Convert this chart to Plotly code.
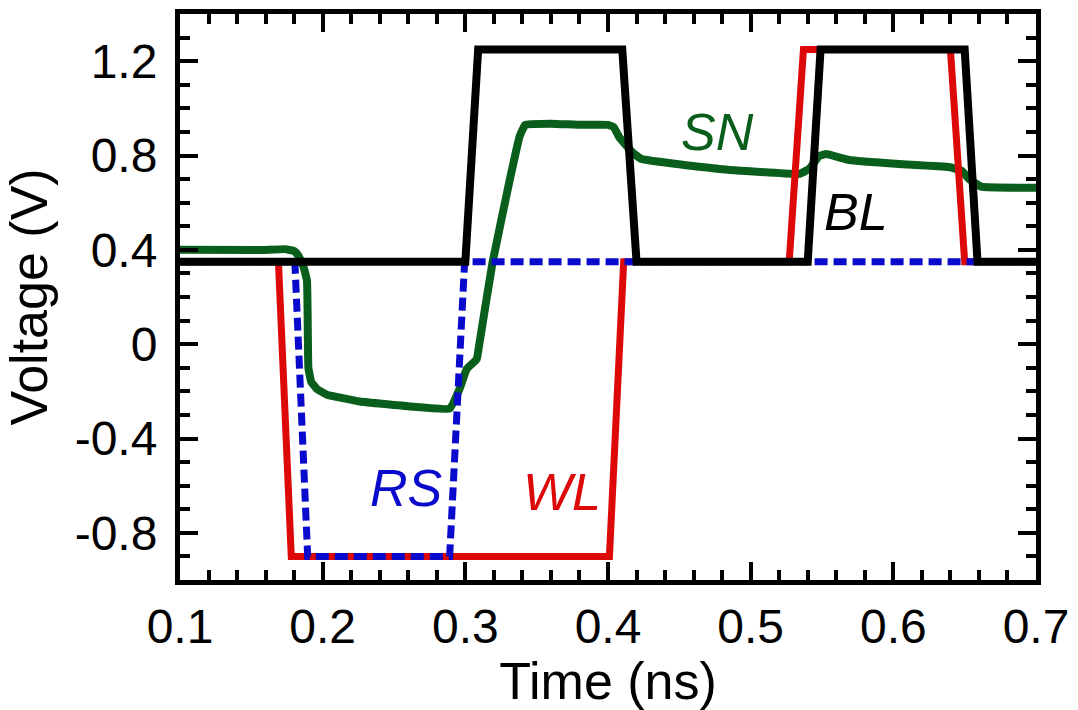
import plotly.graph_objects as go

# ---- data (time in ns, voltage in V) ----
t_BL = [0.1, 0.300, 0.309, 0.410, 0.420, 0.540, 0.549, 0.650, 0.659, 0.7]
v_BL = [0.35, 0.35, 1.25, 1.25, 0.35, 0.35, 1.25, 1.25, 0.35, 0.35]

t_WL = [0.1, 0.169, 0.178, 0.401, 0.411, 0.527, 0.537, 0.640, 0.650, 0.7]
v_WL = [0.35, 0.35, -0.9, -0.9, 0.35, 0.35, 1.25, 1.25, 0.35, 0.35]

t_RS = [0.1, 0.1805, 0.1895, 0.289, 0.2995, 0.7]
v_RS = [0.35, 0.35, -0.9, -0.9, 0.35, 0.35]

t_SN = [0.1, 0.156, 0.1735, 0.180, 0.183, 0.1865, 0.189, 0.190, 0.192, 0.196, 0.203, 0.226,
        0.261, 0.289, 0.296, 0.301, 0.308, 0.310, 0.319, 0.331, 0.338, 0.342, 0.36,
        0.38, 0.40, 0.404, 0.408, 0.417, 0.4235, 0.478, 0.534, 0.541, 0.548, 0.553,
        0.569, 0.604, 0.639, 0.648, 0.653, 0.6615, 0.7]
v_SN = [0.40, 0.399, 0.403, 0.395, 0.375, 0.33, 0.27, -0.10, -0.16, -0.19, -0.214, -0.243,
        -0.264, -0.273, -0.189, -0.105, -0.063, 0.008, 0.344, 0.693, 0.88, 0.93, 0.935,
        0.93, 0.93, 0.92, 0.877, 0.814, 0.785, 0.743, 0.722, 0.743, 0.798, 0.806,
        0.781, 0.764, 0.751, 0.735, 0.701, 0.668, 0.663]

x_ticks = [0.1, 0.2, 0.3, 0.4, 0.5, 0.6, 0.7]
x_ticktext = ["0.1", "0.2", "0.3", "0.4", "0.5", "0.6", "0.7"]
y_ticks = [-0.8, -0.4, 0, 0.4, 0.8, 1.2]
y_ticktext = ["-0.8", "-0.4", "0", "0.4", "0.8", "1.2"]

labels = ["SN", "BL", "RS", "WL"]
label_t = [0.4767, 0.574, 0.259, 0.3675]
label_v = [0.898, 0.5625, -0.609, -0.626]

GREEN = "#0a5e1b"
RED = "#dd0808"
BLUE = "#0a0acc"
BLACK = "#000000"
label_colors = [GREEN, BLACK, BLUE, RED]

fig = go.Figure()
fig.add_trace(go.Scatter(x=t_SN, y=v_SN, mode="lines", line=dict(color=GREEN, width=8, shape="spline", smoothing=0.3), name="SN"))
fig.add_trace(go.Scatter(x=t_WL, y=v_WL, mode="lines", line=dict(color=RED, width=7), name="WL"))
fig.add_trace(go.Scatter(x=t_RS, y=v_RS, mode="lines", line=dict(color=BLUE, width=7, dash="13px,6px"), name="RS"))
fig.add_trace(go.Scatter(x=t_BL, y=v_BL, mode="lines", line=dict(color=BLACK, width=8), name="BL"))

for txt, tx, ty, c in zip(labels, label_t, label_v, label_colors):
    fig.add_annotation(x=tx, y=ty, xref="x", yref="y", text=f"<i>{txt}</i>", showarrow=False,
                       font=dict(family="Liberation Sans, Arial", size=52, color=c))

FONT = "Liberation Sans, Arial"
fig.update_layout(
    width=1078, height=710,
    margin=dict(l=180, r=41, t=9, b=130),
    paper_bgcolor="white", plot_bgcolor="white",
    showlegend=False,
    font=dict(family=FONT, color="black"),
    xaxis=dict(
        range=[0.1, 0.7], tickvals=x_ticks, ticktext=x_ticktext,
        ticks="inside", ticklen=18, tickwidth=4, tickcolor="black",
        minor=dict(dtick=0.02, tick0=0.1, ticks="inside", ticklen=10, tickwidth=4, tickcolor="black"),
        showline=True, linewidth=5, linecolor="black", mirror="ticks",
        showgrid=False, zeroline=False,
        tickfont=dict(size=48, family=FONT, color="black"),
        ticklabelstandoff=0,
        title=dict(text="Time (ns)", font=dict(size=52, family=FONT, color="black"), standoff=2),
    ),
    yaxis=dict(
        range=[-1.0, 1.4], tickvals=y_ticks, ticktext=y_ticktext,
        ticks="inside", ticklen=18, tickwidth=4, tickcolor="black",
        minor=dict(dtick=0.1, tick0=0, ticks="inside", ticklen=10, tickwidth=4, tickcolor="black"),
        showline=True, linewidth=5, linecolor="black", mirror="ticks",
        showgrid=False, zeroline=False,
        tickfont=dict(size=48, family=FONT, color="black"),
        ticklabelstandoff=8,
        title=dict(text="Voltage (V)", font=dict(size=52, family=FONT, color="black"), standoff=14),
    ),
)

fig.write_html("out.html")
